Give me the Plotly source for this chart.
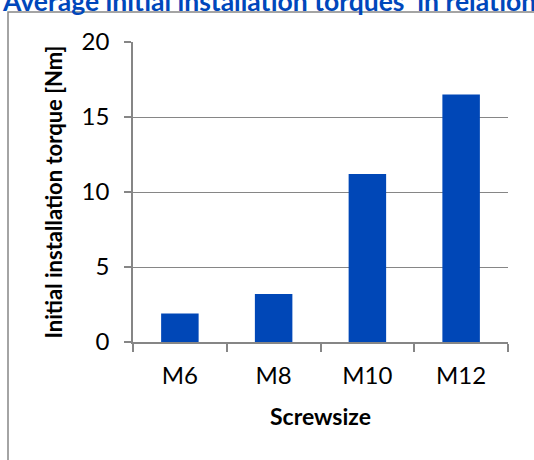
import plotly.graph_objects as go

categories = ["M6", "M8", "M10", "M12"]
torque = [1.9, 3.2, 11.2, 16.5]
y_ticks = [0, 5, 10, 15, 20]

title_text = "Average initial installation torques&nbsp; in relation to the screwsize"
x_title = "Screwsize"
y_title = "Initial installation torque [Nm]"

FONT = "Lato, Open Sans, sans-serif"
AX = "#868686"
BLUE = "#0047B7"

fig = go.Figure()
fig.add_trace(go.Bar(x=categories, y=torque, marker=dict(color=BLUE, line=dict(width=0))))

fig.update_layout(
    width=534, height=460,
    margin=dict(l=133, r=26, t=42, b=118),
    paper_bgcolor="white", plot_bgcolor="white",
    showlegend=False,
    bargap=0.6,
    font=dict(family=FONT, color="black", size=24),
    xaxis=dict(
        showline=True, linecolor=AX, linewidth=1.5,
        ticks="outside", tickson="boundaries", ticklen=8, tickcolor=AX, tickwidth=1.5,
        tickfont=dict(size=24),
        ticklabelstandoff=11,
        title=dict(text="<b>" + x_title + "</b>", font=dict(size=23), standoff=21),
        showgrid=False,
    ),
    yaxis=dict(
        range=[0, 20], tickvals=y_ticks,
        showline=True, linecolor=AX, linewidth=1.5,
        ticks="outside", ticklen=7, tickcolor=AX, tickwidth=1.5,
        showgrid=True, gridcolor=AX, gridwidth=1.3,
        zeroline=False,
        tickfont=dict(size=24),
        ticklabelstandoff=10,
        title=dict(text="<b>" + y_title + "</b>", font=dict(size=22), standoff=13),
    ),
    annotations=[dict(
        text="<b>" + title_text + "</b>",
        xref="paper", yref="paper", x=-133/375, y=1 + 23/300,
        xanchor="left", yanchor="bottom", showarrow=False,
        font=dict(size=26.5, color="#0047BB", family=FONT),
    )],
    shapes=[dict(
        type="rect", xref="paper", yref="paper",
        x0=-125/375, x1=1.3, y0=-0.6, y1=1 + 30/300,
        line=dict(color=AX, width=1.5), fillcolor="rgba(0,0,0,0)", layer="below",
    )],
)

fig.write_html("out.html", config={"displayModeBar": False},
               post_script="document.body.style.margin='0px';")
